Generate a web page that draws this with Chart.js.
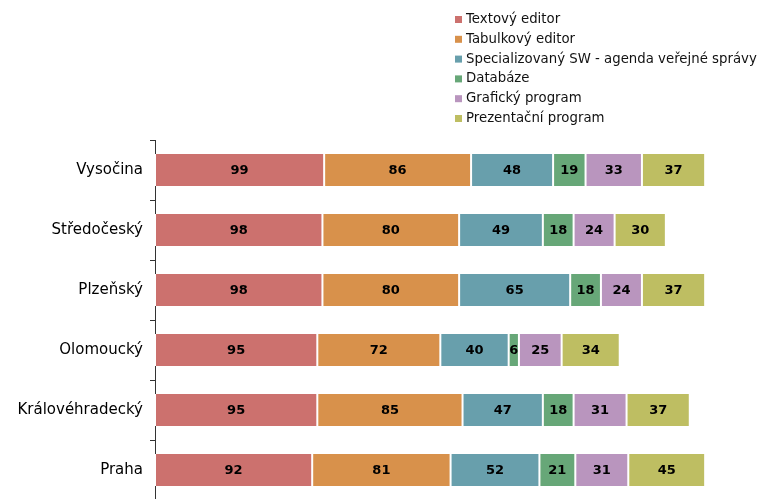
<!DOCTYPE html>
<html>
<head>
<meta charset="utf-8">
<script src="https://cdn.jsdelivr.net/npm/chart.js@4/dist/chart.umd.min.js"></script>
<style>
html,body{margin:0;padding:0;background:#fff;overflow:hidden;}
#wrap{position:relative;width:760px;height:500px;}
</style>
</head>
<body>
<div id="wrap"><canvas id="c"></canvas></div>
<script>
const categories = ['Vysočina','Středočeský','Plzeňský','Olomoucký','Královéhradecký','Praha'];
const seriesNames = ['Textový editor','Tabulkový editor','Specializovaný SW - agenda veřejné správy','Databáze','Grafický program','Prezentační program'];
const textovyEditor = [99,98,98,95,95,92];
const tabulkovyEditor = [86,80,80,72,85,81];
const specializovanySW = [48,49,65,40,47,52];
const databaze = [19,18,18,6,18,21];
const grafickyProgram = [33,24,24,25,31,31];
const prezentacniProgram = [37,30,37,34,37,45];
const seriesValues = [textovyEditor,tabulkovyEditor,specializovanySW,databaze,grafickyProgram,prezentacniProgram];
const colors = ['#CC716E','#D8914B','#689FAC','#67A778','#B995BE','#BEBE62'];

const FONT = '"DejaVu Sans", Verdana, sans-serif';

const labelPlugin = {
  id: 'segLabels',
  afterDatasetsDraw(chart) {
    const ctx = chart.ctx;
    ctx.save();
    ctx.font = 'bold 13px ' + FONT;
    ctx.fillStyle = '#000';
    ctx.textAlign = 'center';
    ctx.textBaseline = 'middle';
    chart.data.datasets.forEach((ds, di) => {
      const meta = chart.getDatasetMeta(di);
      meta.data.forEach((el, i) => {
        const p = el.getProps(['x','y','base'], true);
        const cx = (p.x + p.base) / 2;
        ctx.fillText(String(ds.data[i]), cx, p.y + 1);
      });
    });
    ctx.restore();
  }
};

const legendPlugin = {
  id: 'customLegend',
  afterDraw(chart) {
    const ctx = chart.ctx;
    ctx.save();
    ctx.font = '13.3px ' + FONT;
    ctx.textAlign = 'left';
    ctx.textBaseline = 'middle';
    chart.data.datasets.forEach((ds, i) => {
      const y = 19.5 + i * 19.8;
      ctx.fillStyle = ds.backgroundColor;
      ctx.fillRect(455, y - 3.5, 7, 7);
      ctx.fillStyle = '#111';
      ctx.fillText(ds.label, 466, y);
    });
    ctx.restore();
  }
};

new Chart(document.getElementById('c'), {
  type: 'bar',
  data: {
    labels: categories,
    datasets: seriesNames.map((n, i) => ({
      label: n,
      data: seriesValues[i],
      backgroundColor: colors[i],
      borderColor: '#ffffff',
      borderWidth: {left: 1, right: 1, top: 0, bottom: 0},
      borderSkipped: false,
      categoryPercentage: 1,
      barPercentage: 0.53
    }))
  },
  options: {
    indexAxis: 'y',
    responsive: true,
    maintainAspectRatio: false,
    animation: false,
    layout: {padding: {left: 17, top: 140, right: 7, bottom: 0}},
    plugins: {legend: {display: false}, tooltip: {enabled: false}},
    scales: {
      x: {
        stacked: true, display: false, min: 0, max: 350
      },
      y: {
        stacked: true,
        afterFit(scale) { scale.width = 138; scale.paddingTop = 0; scale.paddingBottom = 0; },
        grid: {display: true, drawOnChartArea: false, drawTicks: true, tickLength: 5, color: '#333', offset: true},
        border: {display: true, color: '#333', width: 1},
        ticks: {color: '#000', padding: 7, font: {family: FONT, size: 15}}
      }
    }
  },
  plugins: [labelPlugin, legendPlugin]
});
</script>
</body>
</html>
